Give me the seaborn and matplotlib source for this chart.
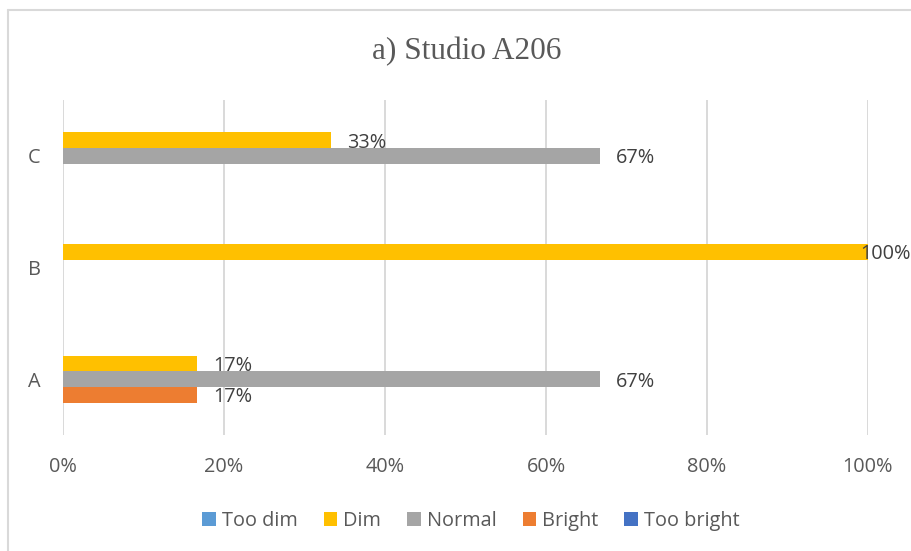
import matplotlib
matplotlib.use("Agg")
import matplotlib.pyplot as plt
from matplotlib.patches import Patch
from matplotlib.lines import Line2D
import seaborn as sns
import pandas as pd

# Survey shares (percent of respondents) per condition
categories = ["C", "B", "A"]
ratings = ["Too dim", "Dim", "Normal", "Bright", "Too bright"]
too_dim = [0.0, 0.0, 0.0]
dim = [33.33, 100.0, 16.67]
normal = [66.67, 0.0, 66.67]
bright = [0.0, 0.0, 16.67]
too_bright = [0.0, 0.0, 0.0]
x_ticks = [0, 20, 40, 60, 80, 100]

palette = ["#5B9BD5", "#FFC000", "#A5A5A5", "#ED7D31", "#4472C4"]
text_grey = "#595959"
label_grey = "#404040"
grid_grey = "#D9D9D9"
fs = 14.3

series = [too_dim, dim, normal, bright, too_bright]
rows = []
for rating, vals in zip(ratings, series):
    for cat, v in zip(categories, vals):
        rows.append({"Condition": cat, "Rating": rating, "Share": v})
df = pd.DataFrame(rows)

sns.set_theme(style="white")
plt.rcParams["font.family"] = ["Open Sans", "DejaVu Sans"]

fig = plt.figure(figsize=(9.12, 5.51), dpi=100)
ax = fig.add_axes([63 / 912, 1 - 435 / 551, 805 / 912, 335 / 551])

sns.barplot(data=df, x="Share", y="Condition", hue="Rating",
            order=categories, hue_order=ratings, palette=palette,
            orient="h", width=0.7, errorbar=None, saturation=1,
            linewidth=0, ax=ax, legend=False)

ax.set_xlim(0, 100)
ax.set_xticks(x_ticks)
ax.set_xticklabels([f"{t}%" for t in x_ticks])
ax.set_xlabel("")
ax.set_ylabel("")
for s in ax.spines.values():
    s.set_visible(False)
ax.grid(axis="x", color=grid_grey, linewidth=1.4)
ax.grid(axis="y", visible=False)
ax.set_axisbelow(True)
ax.tick_params(axis="x", length=0, pad=16, labelsize=fs, labelcolor=text_grey)
ax.tick_params(axis="y", length=0, pad=16, labelsize=fs, labelcolor=text_grey)

# Value labels at the outer end of each non-empty bar
fig.canvas.draw()
renderer = fig.canvas.get_renderer()
for rating, vals, cont in zip(ratings, series, ax.containers):
    for bar, v in zip(cont.patches, vals):
        if v <= 0:
            continue
        yc = bar.get_y() + bar.get_height() / 2
        t = ax.annotate(f"{v:.0f}%", xy=(v, yc), xytext=(11.5, 0),
                        textcoords="offset points", ha="left", va="center_baseline",
                        fontsize=fs, color=label_grey, annotation_clip=False)
        ext = t.get_window_extent(renderer)
        overflow = ext.x1 - (fig.bbox.width - 1)
        if overflow > 0:
            t.set_position((11.5 - overflow * 72 / fig.dpi, 0))

fig.text(467 / 912, 1 - 52 / 551, "a) Studio A206", ha="center", va="center",
         fontsize=22.5, color=text_grey, family=["Liberation Serif", "DejaVu Serif"])

handles = [Patch(facecolor=c, edgecolor="none", label=r) for c, r in zip(palette, ratings)]
fig.legend(handles=handles, loc="center", bbox_to_anchor=(471 / 912, 1 - 521 / 551),
           ncol=5, frameon=False, fontsize=fs, labelcolor=text_grey,
           handlelength=0.7, handleheight=0.7, handletextpad=0.3,
           columnspacing=1.3)

# Chart area outline (left and top edges)
fig.add_artist(Line2D([8.5 / 912, 8.5 / 912], [0, 1 - 9.5 / 551],
                      transform=fig.transFigure, color=grid_grey, linewidth=1.5))
fig.add_artist(Line2D([8.5 / 912, 1], [1 - 9.5 / 551, 1 - 9.5 / 551],
                      transform=fig.transFigure, color=grid_grey, linewidth=1.5))

fig.savefig("out.png", dpi=100)
